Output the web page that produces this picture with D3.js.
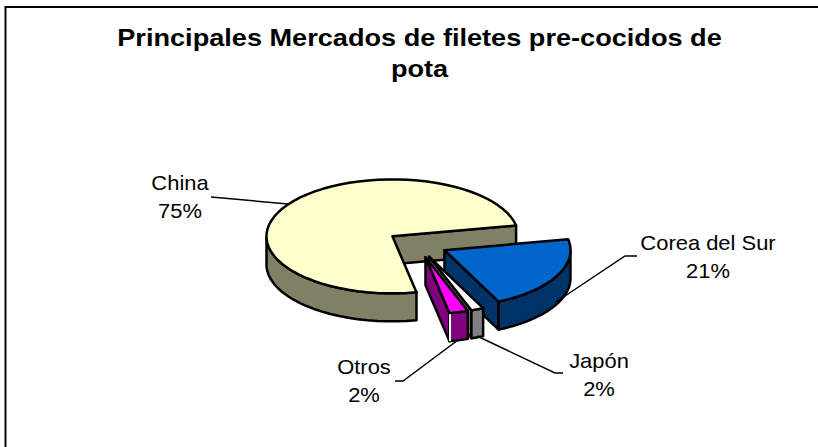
<!DOCTYPE html>
<html>
<head>
<meta charset="utf-8">
<script src="https://cdn.jsdelivr.net/npm/d3@7"></script>
<style>
  html, body { margin: 0; padding: 0; background: #fff; }
  svg { display: block; }
  text { font-family: "Liberation Sans", Arial, sans-serif; fill: #000; }
</style>
</head>
<body>
<script>
const categories = ['China', 'Corea del Sur', 'Japón', 'Otros'];
const shares = [75, 21, 1.6, 2.4];
const titleLines = ['Principales Mercados de filetes pre-cocidos de', 'pota'];

const topColors = ['#ffffcc', '#0066cc', '#ffffff', '#ff00ff'];
const sideColors = ['#808066', '#003366', '#808080', '#800080'];

// label anchor and leader line for each slice
const labelPos = [[180, 190], [708, 250], [599, 368], [364, 374]];
const leaders = [
  [[211, 197], [288, 204]],
  [[637, 256], [625, 256], [556, 302]],
  [[563, 373], [555, 373], [477, 336]],
  [[395, 381], [403, 381], [458, 340]],
];

const width = 818;
const height = 447;
const cx = 417.5;
const cy = 244;
const rx = 126;
const ry = 57;
const depth = 28;
const explode = 0.24;
const firstAngle = 169;

const svg = d3.select('body').append('svg')
  .attr('width', width)
  .attr('height', height);

// frame
svg.append('path')
  .attr('d', `M5.5,${height} V7 H${width}`)
  .attr('fill', 'none')
  .attr('stroke', '#000')
  .attr('stroke-width', 2);

// title and labels are wider than plain Arial in the original, so stretch them
svg.append('g').selectAll('text')
  .data(titleLines)
  .enter()
  .append('text')
  .attr('transform', (d, i) => `translate(419.5,${46 + i * 31}) scale(1.18,1)`)
  .attr('text-anchor', 'middle')
  .attr('font-size', 23)
  .attr('font-weight', 'bold')
  .text((d) => d);

const pie = d3.pie().sort(null)
  .startAngle(firstAngle * Math.PI / 180)
  .endAngle((firstAngle + 360) * Math.PI / 180);
const slices = pie(shares);

const lineGen = d3.line();

function sliceGeometry(d) {
  const mid = (d.startAngle + d.endAngle) / 2;
  const ox = cx + explode * rx * Math.sin(mid);
  const oy = cy - explode * ry * Math.cos(mid);
  const at = (a, dy = 0) => [ox + rx * Math.sin(a), oy - ry * Math.cos(a) + dy];
  const apex = [ox, oy];
  const rim = d3.range(0, 61).map((i) => d.startAngle + (d.endAngle - d.startAngle) * i / 60);
  return { apex, at, rim };
}

const g = svg.append('g').attr('stroke', '#000').attr('stroke-width', 2.5).attr('stroke-linejoin', 'round');

slices.forEach((d, i) => {
  const { apex, at, rim } = sliceGeometry(d);

  // wall on the closing edge of the slice
  const endA = d.endAngle;
  g.append('path')
    .attr('d', `${lineGen([apex, at(endA), at(endA, depth), [apex[0], apex[1] + depth]])}Z`)
    .attr('fill', sideColors[i]);

  // outer wall, only the part that faces the viewer
  const front = rim.filter((a) => Math.cos(a) <= 0);
  g.append('path')
    .attr('d', `${lineGen(front.map((a) => at(a)).concat(front.slice().reverse().map((a) => at(a, depth))))}Z`)
    .attr('fill', sideColors[i]);

  // top face
  g.append('path')
    .attr('d', `${lineGen([apex].concat(rim.map((a) => at(a))))}Z`)
    .attr('fill', topColors[i]);

  // thin white gap at the corner of the Otros slice
  if (i === slices.length - 1) {
    g.append('path')
      .attr('d', lineGen([[at(endA)[0] + 0.5, at(endA)[1] + 1], [at(endA)[0] + 0.5, at(endA, depth)[1]]]))
      .attr('stroke', '#fff')
      .attr('stroke-width', 2);
  }
});

svg.append('g').selectAll('path')
  .data(leaders)
  .enter()
  .append('path')
  .attr('d', (d) => lineGen(d))
  .attr('fill', 'none')
  .attr('stroke', '#000')
  .attr('stroke-width', 1.5);

const labels = svg.append('g').selectAll('text')
  .data(categories)
  .enter()
  .append('text')
  .attr('transform', (d, i) => `translate(${labelPos[i][0]},${labelPos[i][1]}) scale(1.07,1)`)
  .attr('text-anchor', 'middle')
  .attr('font-size', 20.5);
labels.append('tspan').text((d) => d);
labels.append('tspan')
  .attr('x', 0)
  .attr('dy', 28)
  .text((d, i) => `${Math.round(shares[i])}%`);
</script>
</body>
</html>
